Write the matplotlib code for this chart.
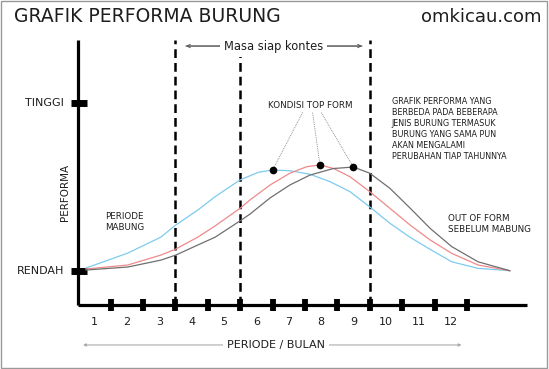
import numpy as np
import matplotlib
matplotlib.use("Agg")
import matplotlib.pyplot as plt
from matplotlib.patches import Rectangle

# bulan (posisi di sumbu x) dan performa (0 = rendah, 1 = tinggi)
months = list(range(1, 13))
month_labels = [str(m) for m in months]
tick_pos = [m + 0.5 for m in months]
contest_lines = [3.5, 5.5, 9.5]

blue_x = [0.74, 2.03, 3.05, 3.51, 4.19, 4.72, 5.49, 5.80, 6.06, 6.50, 7.03,
          7.65, 8.27, 8.89, 9.56, 10.12, 10.74, 11.36, 12.03, 12.84, 13.82]
blue_y = [0.018, 0.107, 0.202, 0.274, 0.363, 0.442, 0.542, 0.567, 0.588, 0.601, 0.597,
          0.576, 0.532, 0.472, 0.372, 0.284, 0.201, 0.129, 0.055, 0.016, 0.002]

red_x = [0.74, 2.03, 3.05, 3.51, 4.19, 4.72, 5.49, 5.80, 6.42, 7.03, 7.55,
         7.96, 8.37, 8.89, 9.50, 10.12, 10.74, 11.36, 12.03, 12.84, 13.82]
red_y = [0.012, 0.036, 0.095, 0.131, 0.202, 0.268, 0.373, 0.423, 0.512, 0.582, 0.621,
         0.631, 0.611, 0.561, 0.472, 0.373, 0.274, 0.185, 0.105, 0.036, 0.002]

gray_x = [0.74, 2.03, 3.05, 3.51, 4.19, 4.72, 5.49, 5.80, 6.42, 7.03, 7.65,
          8.37, 8.99, 9.50, 10.12, 10.74, 11.36, 12.03, 12.84, 13.82]
gray_y = [0.006, 0.024, 0.065, 0.095, 0.155, 0.201, 0.298, 0.339, 0.435, 0.512, 0.571,
          0.610, 0.619, 0.582, 0.492, 0.375, 0.254, 0.145, 0.055, 0.002]

note_lines = ["GRAFIK PERFORMA YANG", "BERBEDA PADA BEBERAPA", "JENIS BURUNG TERMASUK",
              "BURUNG YANG SAMA PUN", "AKAN MENGALAMI", "PERUBAHAN TIAP TAHUNNYA"]

txt = "#1e1e1e"

fig = plt.figure(figsize=(5.49, 3.69), dpi=100)
ax = fig.add_axes([0, 0, 1, 1])
ax.set_xlim(-1.917, 15.03)
ax.set_ylim(-0.583, 1.613)
ax.axis("off")

y_axis = -0.202
y_top = 1.375

# sumbu
ax.plot([0.5, 0.5], [y_axis, y_top], color="black", lw=2.3, solid_capstyle="butt")
ax.plot([0.5, 14.35], [y_axis, y_axis], color="black", lw=2.3, solid_capstyle="butt")
ax.vlines(tick_pos, y_axis - 0.036, y_axis + 0.036, color="black", lw=4.2)
ax.hlines([0, 1], 0.28, 0.77, color="black", lw=5)

# garis putus-putus masa kontes
ax.vlines(contest_lines, y_axis, y_top, color="black", lw=1.8,
          linestyles=(0, (3.5, 2.0)), zorder=1)

# kurva performa
for xs, ys, c in [(blue_x, blue_y, "#7ccbef"), (red_x, red_y, "#ef8a8a"),
                  (gray_x, gray_y, "#6f6f6f")]:
    ax.plot(xs, ys, color=c, lw=0.9, solid_joinstyle="round", zorder=3)

# titik top form + garis penunjuk
leader_ends = [7.43, 7.73, 7.99]
for xs, ys, lx in zip([blue_x, red_x, gray_x], [blue_y, red_y, gray_y], leader_ends):
    i = int(np.argmax(ys))
    ax.plot([xs[i], lx], [ys[i], 0.946], color="#777777", lw=0.6, ls=(0, (1, 1.2)), zorder=2)
    ax.plot(xs[i], ys[i], "o", color="black", ms=4.5, zorder=4)

ax.text(7.67, 0.988, "KONDISI TOP FORM", ha="center", va="center", fontsize=6.3,
        color=txt, bbox=dict(fc="white", ec="none", pad=1.5), zorder=5)

# label sumbu
for m, lab in zip(months, month_labels):
    ax.text(m, -0.304, lab, ha="center", va="center", fontsize=8, color=txt)
ax.text(0.05, 1.0, "TINGGI", ha="right", va="center", fontsize=8, color=txt)
ax.text(0.08, 0.0, "RENDAH", ha="right", va="center", fontsize=8, color=txt)
ax.text(0.09, 0.47, "PERFORMA", ha="center", va="center", rotation=90,
        fontsize=7.5, color=txt)

ax.annotate("", xy=(0.645, -0.44), xytext=(12.33, -0.44),
            arrowprops=dict(arrowstyle="<|-|>", color="#aaaaaa", lw=0.8,
                            mutation_scale=4, shrinkA=0, shrinkB=0))
ax.text(6.6, -0.44, "PERIODE / BULAN", ha="center", va="center", fontsize=8,
        color=txt, bbox=dict(fc="white", ec="none", pad=3))

ax.annotate("", xy=(3.82, 1.339), xytext=(9.26, 1.339),
            arrowprops=dict(arrowstyle="->", color="#555555", lw=0.7,
                            mutation_scale=6, shrinkA=0, shrinkB=0))
ax.annotate("", xy=(9.26, 1.339), xytext=(3.82, 1.339),
            arrowprops=dict(arrowstyle="->", color="#555555", lw=0.7,
                            mutation_scale=6, shrinkA=0, shrinkB=0))
ax.text(6.52, 1.339, "Masa siap kontes", ha="center", va="center", fontsize=8.3,
        color=txt, bbox=dict(fc="white", ec="none", pad=3), zorder=5)

ax.text(1.33, 0.29, "PERIODE\nMABUNG", ha="left", va="center", fontsize=6.3,
        color=txt, linespacing=1.3)
ax.text(11.91, 0.282, "OUT OF FORM\nSEBELUM MABUNG", ha="left", va="center",
        fontsize=6.3, color=txt, linespacing=1.3)
ax.text(10.18, 0.845, "\n".join(note_lines), ha="left", va="center", fontsize=5.8,
        color=txt, linespacing=1.3)

fig.text(14 / 549, 1 - 16 / 369, "GRAFIK PERFORMA BURUNG", ha="left", va="center",
         fontsize=13.5, color=txt)
fig.text(542 / 549, 1 - 17 / 369, "omkicau.com", ha="right", va="center",
         fontsize=13, color=txt)

fig.patches.append(Rectangle((0.5 / 549, 1.5 / 369), 546.5 / 549, 367 / 369,
                             transform=fig.transFigure, fill=False,
                             ec="#999999", lw=1))

fig.savefig("out.png", dpi=100)
